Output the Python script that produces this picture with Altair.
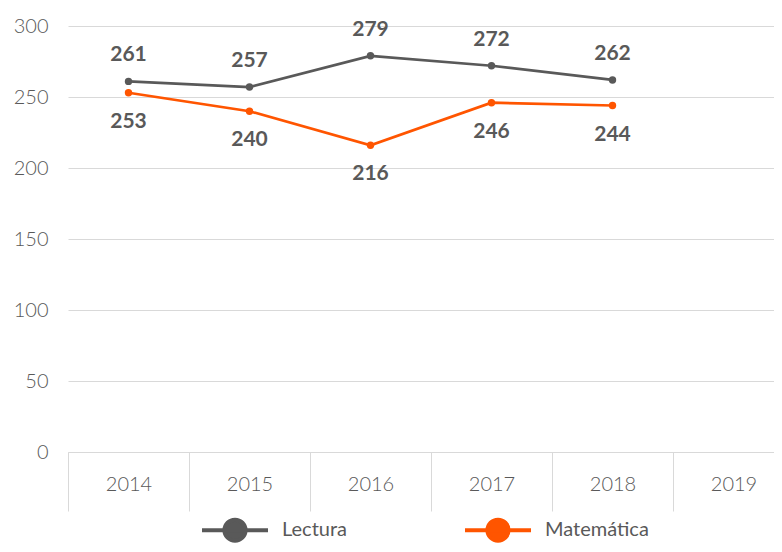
import altair as alt
import pandas as pd

years = ["2014", "2015", "2016", "2017", "2018", "2019"]
series_names = ["Lectura", "Matemática"]
lectura = [261, 257, 279, 272, 262]
matematica = [253, 240, 216, 246, 244]
colors = ["#595959", "#FF5500"]
label_dy = [-26, 29]

rows = []
for name, vals in zip(series_names, [lectura, matematica]):
    for y, v in zip(years, vals):
        rows.append({"year": y, "value": v, "serie": name})
df = pd.DataFrame(rows)

x = alt.X("year:O", scale=alt.Scale(domain=years, range=[0, 726], paddingInner=0, paddingOuter=0),
          axis=alt.Axis(title=None, labelAngle=0, tickBand="extent", tickSize=59,
                        tickColor="#D9D9D9", domainColor="#D9D9D9", labelPadding=-27,
                        labelFont="Lato", labelFontWeight=300, labelFontSize=20,
                        labelColor="#595959", grid=False, labelBaseline="middle"))
y = alt.Y("value:Q", scale=alt.Scale(domain=[0, 300], nice=False),
          axis=alt.Axis(title=None, values=[0, 50, 100, 150, 200, 250, 300], ticks=False,
                        domain=False, labelPadding=20, labelFont="Lato", labelFontWeight=300,
                        labelFontSize=20, labelColor="#595959", gridColor="#D9D9D9",
                        gridWidth=1.2))

color = alt.Color("serie:N", scale=alt.Scale(domain=series_names, range=colors),
                  legend=alt.Legend(title=None, orient="none", direction="horizontal",
                                    legendX=132, legendY=469,
                                    symbolType="M-1,0H1M0.32,0A0.32,0.32,0,1,1,-0.32,0A0.32,0.32,0,1,1,0.32,0Z",
                                    symbolSize=4356, symbolStrokeWidth=4,
                                    labelFont="Lato", labelFontSize=20, labelColor="#595959",
                                    labelOffset=12, columnPadding=109, gridAlign="each"))

base = alt.Chart(df)
lines = base.mark_line(strokeWidth=2.7, point=alt.OverlayMarkDef(size=55, filled=True, opacity=1)).encode(
    x=x, y=y, color=color)

texts = []
for name, dy in zip(series_names, label_dy):
    texts.append(base.transform_filter(alt.datum.serie == name).mark_text(
        dy=dy, font="Lato", fontWeight="bold", fontSize=21, color="#595959").encode(
        x=alt.X("year:O"), y=alt.Y("value:Q"), text="value:Q"))

chart = alt.layer(lines, *texts).properties(
    width=706, height=426,
    autosize=alt.AutoSizeParams(type="none"),
    padding={"left": 60, "top": 18, "right": 0, "bottom": 92},
).configure_view(stroke=None)

chart.save("out.html", embed_options={"renderer": "svg", "actions": False})
